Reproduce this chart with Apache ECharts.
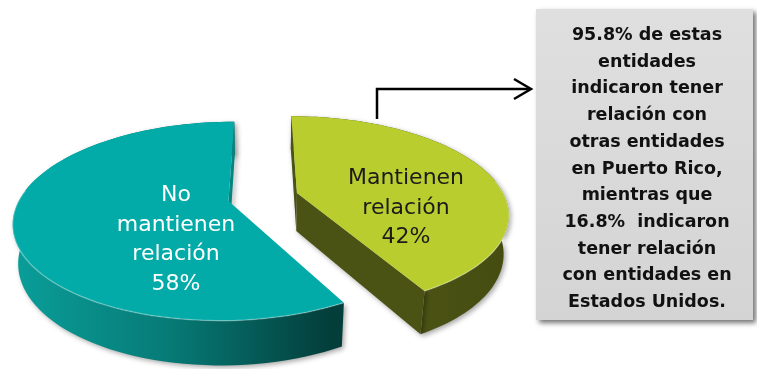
<!DOCTYPE html>
<html>
<head>
<meta charset="utf-8">
<script src="https://cdn.jsdelivr.net/npm/echarts@6/dist/echarts.min.js"></script>
<style>
  html, body { margin: 0; padding: 0; background: #ffffff; }
  #chart { width: 757px; height: 369px; }
</style>
</head>
<body>
<div id="chart"></div>
<script>
// Slices, clockwise from 12 o'clock
const categories = ['Mantienen relación', 'No mantienen relación'];
const labelLines = [['Mantienen', 'relación'], ['No', 'mantienen', 'relación']];
const shares = [42, 58];

const noteLines = [
  '95.8% de estas',
  'entidades',
  'indicaron tener',
  'relación con',
  'otras entidades',
  'en Puerto Rico,',
  'mientras que',
  '16.8%  indicaron',
  'tener relación',
  'con entidades en',
  'Estados Unidos.'
];

// Colours per slice
const topColors = ['#bacd2e', '#02aba7'];
const faceColors = ['#4b5314', '#06847f'];
const wallStops = [
  [[0, '#525b18'], [1, '#444b10']],
  [[0, '#0a9f9a'], [0.5, '#077a76'], [1, '#033e3b']]
];
const wallSpan = [[300, 520], [10, 330]];
const labelColors = ['#1b1b1b', '#ffffff'];

// 3D disc projection (unit radius, tilted towards the viewer, with perspective)
const PHI = 26.8 * Math.PI / 180;
const DIST = 4.44;
const SCALE = 208;
const CX = 263, CY = 197;
const THICK = 0.21;
const EXPLODE = 0.17;

function project(X, Y, Z) {
  const yc = Y * Math.cos(PHI) - Z * Math.sin(PHI);
  const zc = DIST - (Y * Math.sin(PHI) + Z * Math.cos(PHI));
  const f = DIST / zc;
  return [CX + SCALE * X * f, CY - SCALE * yc * f];
}
const cam = [0, DIST * Math.sin(PHI), DIST * Math.cos(PHI)];

const total = shares.reduce((a, b) => a + b, 0);
const starts = [];
shares.reduce((acc, v, i) => { starts[i] = acc; return acc + v; }, 0);

function renderSlice(params, api) {
  const i = params.dataIndex;
  const v = api.value(0);
  const a0 = starts[i] / total * Math.PI * 2;
  const a1 = a0 + v / total * Math.PI * 2;
  const mid = (a0 + a1) / 2;
  const ox = Math.sin(mid) * EXPLODE;
  const oz = -Math.cos(mid) * EXPLODE;
  const rim = (t, Y) => project(ox + Math.sin(t), Y, oz - Math.cos(t));
  const apex = (Y) => project(ox, Y, oz);

  const N = 90;
  const topArc = [], botArc = [];
  for (let k = 0; k <= N; k++) {
    const t = a0 + (a1 - a0) * k / N;
    topArc.push(rim(t, 0));
    botArc.push(rim(t, -THICK));
  }

  const children = [];
  const shadow = { shadowColor: 'rgba(0,0,0,0.35)', shadowBlur: 5, shadowOffsetX: 2, shadowOffsetY: 2 };

  // outer curved wall
  children.push({
    type: 'polygon', z2: 1,
    shape: { points: topArc.concat(botArc.slice().reverse()) },
    style: Object.assign({
      fill: new echarts.graphic.LinearGradient(wallSpan[i][0], 0, wallSpan[i][1], 0,
        wallStops[i].map(s => ({ offset: s[0], color: s[1] })), true)
    }, shadow)
  });

  // radial cut faces that turn towards the camera
  [[a0, -1], [a1, 1]].forEach(([t, sgn]) => {
    const n = [sgn * Math.cos(t), 0, sgn * Math.sin(t)];
    const dot = n[0] * (cam[0] - ox) + n[2] * (cam[2] - oz);
    if (dot > 0) {
      children.push({
        type: 'polygon', z2: 2,
        shape: { points: [apex(0), rim(t, 0), rim(t, -THICK), apex(-THICK)] },
        style: Object.assign({ fill: faceColors[i] }, shadow)
      });
    }
  });

  // top surface
  children.push({
    type: 'polygon', z2: 3,
    shape: { points: [apex(0)].concat(topArc) },
    style: { fill: topColors[i] }
  });

  // soft bevel highlight along the front rim
  const front = [];
  for (let k = 0; k <= N; k++) {
    const t = a0 + (a1 - a0) * k / N;
    if (Math.cos(t) < 0.15) front.push(topArc[k]);
  }
  if (front.length > 1) {
    children.push({
      type: 'polyline', z2: 4,
      shape: { points: front },
      style: { stroke: 'rgba(255,255,255,0.28)', lineWidth: 1.5, fill: null }
    });
  }

  return { type: 'group', children: children };
}

const chart = echarts.init(document.getElementById('chart'));
chart.setOption({
  animation: false,
  series: [{
    type: 'custom',
    coordinateSystem: 'none',
    renderItem: renderSlice,
    data: shares.map((v, i) => ({ name: categories[i], value: [v] }))
  }],
  graphic: [
    {
      type: 'text', z: 10, x: 406, y: 208,
      style: {
        text: labelLines[0].join('\n') + '\n' + shares[0] + '%',
        fill: labelColors[0], font: '22px "DejaVu Sans"', lineHeight: 29.5,
        align: 'center', verticalAlign: 'middle'
      }
    },
    {
      type: 'text', z: 10, x: 176, y: 240,
      style: {
        text: labelLines[1].join('\n') + '\n' + shares[1] + '%',
        fill: labelColors[1], font: '22px "DejaVu Sans"', lineHeight: 29.5,
        align: 'center', verticalAlign: 'middle'
      }
    },
    {
      type: 'polyline', z: 10,
      shape: { points: [[377, 119], [377, 89], [530, 89]] },
      style: { stroke: '#000000', lineWidth: 2.5, fill: null }
    },
    {
      type: 'polyline', z: 10,
      shape: { points: [[514, 79], [531, 89], [514, 99]] },
      style: { stroke: '#000000', lineWidth: 2.5, fill: null }
    },
    {
      type: 'rect', z: 10,
      shape: { x: 536, y: 9, width: 217, height: 311 },
      style: {
        fill: new echarts.graphic.LinearGradient(0, 0, 0, 1, [
          { offset: 0, color: '#dfdfdf' }, { offset: 1, color: '#d4d4d4' }
        ]),
        shadowColor: 'rgba(0,0,0,0.55)', shadowBlur: 5, shadowOffsetX: 3, shadowOffsetY: 3
      }
    },
    {
      type: 'text', z: 11, x: 647, y: 169,
      style: {
        text: noteLines.join('\n'),
        fill: '#111111', font: 'bold 17.5px "DejaVu Sans"', lineHeight: 26.7,
        align: 'center', verticalAlign: 'middle'
      }
    }
  ]
});
</script>
</body>
</html>
